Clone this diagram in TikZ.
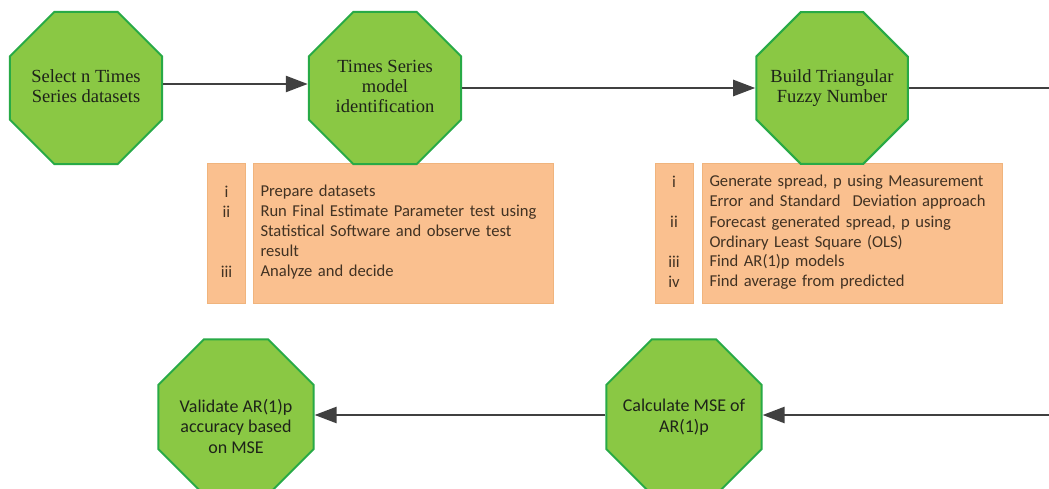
\documentclass[tikz,border=0pt]{standalone}
\usepackage{fontspec}
\setmainfont{Liberation Serif}
\newfontfamily\boxfont{Carlito}
\usetikzlibrary{shapes.geometric,arrows.meta}
\definecolor{octfill}{RGB}{138,200,68}
\definecolor{octdraw}{RGB}{40,170,70}
\definecolor{boxfill}{RGB}{250,192,143}
\definecolor{boxdraw}{RGB}{240,180,125}
\definecolor{arrowcol}{RGB}{64,64,64}
\definecolor{txt}{RGB}{30,35,25}
\definecolor{boxtxt}{RGB}{65,50,35}
\begin{document}
\begin{tikzpicture}[x=1pt,y=-1pt,
 oct/.style={regular polygon, regular polygon sides=8, minimum size=165pt, inner sep=0pt, fill=octfill, draw=octdraw, line width=2pt},
 toptxt/.style={text=txt, align=center, inner sep=0pt, font=\fontsize{18.5}{20}\selectfont},
 bottxt/.style={text=txt, align=center, inner sep=0pt, font=\boxfont\fontsize{18}{20.5}\selectfont},
 numbox/.style={draw=boxdraw, fill=boxfill, line width=0.6pt, minimum width=38pt, minimum height=140pt, inner sep=0pt, align=center, text=boxtxt, font=\boxfont\fontsize{16.6}{20}\selectfont},
 txtbox/.style={draw=boxdraw, fill=boxfill, line width=0.6pt, text width=285pt, inner xsep=7.5pt, inner ysep=0pt, minimum height=140pt, align=left, text=boxtxt, font=\boxfont\fontsize{16.6}{20}\selectfont},
 flow/.style={draw=arrowcol, line width=2.5pt, -{Triangle[length=22pt,width=16pt]}}
]
\useasboundingbox (0,0) rectangle (1049,489);
\clip (0,0) rectangle (1049,489);
\fill[white] (0,0) rectangle (1049,489);

% step boxes
\node[numbox] (nb1) at (226.5,233) {i\strut\\ii\strut\\\strut\\\strut\\iii\strut};
\node[txtbox] (tb1) at (403,233) {Prepare datasets\strut\\Run Final Estimate Parameter test using\strut\\Statistical Software and observe test\strut\\result\strut\\Analyze and decide\strut};
\node[numbox] (nb2) at (674,233) {i\strut\\\strut\\ii\strut\\\strut\\iii\strut\\iv\strut};
\node[txtbox] (tb2) at (852,233) {Generate spread, p using Measurement\strut\\Error and Standard\hspace{12pt}Deviation approach\strut\\Forecast generated spread, p using\strut\\Ordinary Least Square (OLS)\strut\\Find AR(1)p models\strut\\Find average from predicted\strut};

% octagons
\node[oct, label={[name=t1, toptxt, yshift=2pt]center:Select n Times\\Series datasets}] (n1) at (86,88) {};
\node[oct, label={[name=t2, toptxt, yshift=2pt]center:Times Series\\model\\identification}] (n2) at (385,88) {};
\node[oct, minimum size=164pt, label={[name=t3, toptxt]center:Build Triangular\\Fuzzy Number}] (n3) at (832,88) {};
\node[oct, minimum size=168pt, label={[name=t5, bottxt]center:Calculate MSE of\\AR(1)p}] (n5) at (684,417) {};
\node[oct, minimum size=168pt, label={[name=t4, bottxt, yshift=-9pt]center:Validate AR(1)p\\accuracy based\\on MSE}] (n4) at (236,417) {};

\coordinate (outR) at (1049,88);
\coordinate (inR) at (1049,415);

% connectors
\draw[flow] ([yshift=4pt]n1.east) -- ([yshift=4pt]n2.west);
\draw[flow] (n2.east) -- (n3.west);
\draw[draw=arrowcol, line width=2.5pt] (n3.east) -- (outR);
\draw[flow] (inR) -- ([yshift=2pt]n5.east);
\draw[flow] ([yshift=2pt]n5.west) -- ([yshift=2pt]n4.east);
\end{tikzpicture}
\end{document}
